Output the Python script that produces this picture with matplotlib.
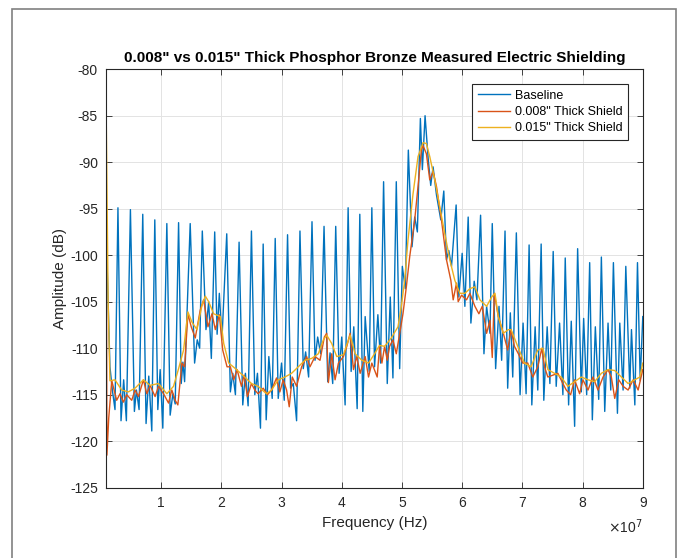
import matplotlib
matplotlib.use("Agg")
import matplotlib.pyplot as plt
from matplotlib.patches import Rectangle
from matplotlib.ticker import FuncFormatter
import numpy as np

plt.rcParams["font.family"] = ["Liberation Sans", "DejaVu Sans"]
plt.rcParams["axes.unicode_minus"] = False

BLUE = "#0072BD"
ORANGE = "#D95319"
YELLOW = "#EDB120"
AXC = "#262626"

# frequency in units of 1e7 Hz, amplitude in dB
base_f = [0.09, 0.15, 0.19, 0.234,
          0.283, 0.334, 0.378, 0.423, 0.49, 0.556, 0.59, 0.634,
          0.695, 0.75, 0.795, 0.845, 0.895, 0.945, 0.984, 1.028,
          1.095, 1.15, 1.195, 1.234, 1.29, 1.334, 1.362, 1.39,
          1.483, 1.556, 1.6, 1.64, 1.684, 1.745, 1.79, 1.834,
          1.89, 1.93, 1.967, 2.01, 2.09, 2.15, 2.19, 2.234,
          2.295, 2.356, 2.40, 2.445, 2.50, 2.556, 2.60, 2.65,
          2.695, 2.745, 2.789, 2.845, 2.895, 2.945, 3.0, 3.045,
          3.10, 3.15, 3.195, 3.25, 3.306, 3.361, 3.40, 3.45,
          3.506, 3.556, 3.6, 3.65, 3.706, 3.767, 3.806, 3.85,
          3.90, 3.956, 4.0, 4.056, 4.106, 4.156, 4.2, 4.256,
          4.30, 4.35, 4.389, 4.456, 4.50, 4.545, 4.60, 4.645,
          4.695, 4.756, 4.806, 4.85, 4.906, 4.962, 5.006, 5.056,
          5.106, 5.167, 5.212, 5.256, 5.306, 5.339, 5.384, 5.434,
          5.478, 5.517, 5.573, 5.645, 5.695, 5.74, 5.778, 5.823,
          5.90, 5.945, 6.0, 6.045, 6.10, 6.145, 6.2, 6.245,
          6.306, 6.362, 6.406, 6.462, 6.50, 6.556, 6.612, 6.656,
          6.712, 6.756, 6.80, 6.84, 6.90, 6.962, 7.012, 7.062,
          7.112, 7.157, 7.212, 7.256, 7.312, 7.356, 7.412, 7.457,
          7.512, 7.562, 7.618, 7.673, 7.712, 7.768, 7.812, 7.868,
          7.918, 7.979, 8.018, 8.068, 8.118, 8.162, 8.212, 8.268,
          8.312, 8.368, 8.423, 8.468, 8.512, 8.579, 8.618, 8.673,
          8.718, 8.784, 8.812, 8.868, 8.912, 8.957, 9.0]
base_db = [-98, -112, -114.5, -116.6,
           -94.9, -117.8, -113.4, -117.8, -95.1, -116.8, -114.5, -116.6,
           -95.6, -118.1, -113, -118.9, -96.2, -116.6, -112.3, -118.6,
           -96.6, -117.2, -114.9, -116, -96.5, -113.8, -111.5, -113.6,
           -96.6, -111.6, -109.1, -110, -97.4, -108, -105, -111.1,
           -97.5, -108.5, -104.1, -109.1, -97.7, -114.7, -112.7, -115,
           -98.6, -116.1, -112.7, -116.2, -97.4, -115, -112.7, -118.6,
           -98.8, -117.7, -110.9, -115.4, -98.2, -115.4, -111.6, -115.6,
           -97.8, -114.3, -113.8, -117.8, -97.4, -112.2, -110.4, -113.1,
           -96.4, -111.3, -108.8, -110.6, -96.9, -113.6, -110.5, -113.8,
           -96.9, -112.7, -108.8, -116.1, -94.9, -112.5, -107.7, -116.5,
           -95.6, -116.8, -106.6, -112.5, -94.9, -112, -106.4, -111.6,
           -92.1, -113.8, -104.5, -113.2, -92.1, -112.2, -101.2, -103.6,
           -88.7, -99.1, -95.9, -97.5, -85.3, -90.8, -85.0, -89.5,
           -92.5, -90.5, -93.5, -96.2, -93.1, -100.5, -99.5, -101.2,
           -94.6, -104.5, -99.8, -105.5, -95.9, -107.3, -102.8, -104.8,
           -95.7, -110.6, -105.5, -108.4, -96.6, -112.2, -105.5, -111.3,
           -97.4, -114.3, -106.2, -113.1, -97.6, -115, -107.3, -114.9,
           -98.9, -116.1, -107.7, -114.5, -98.8, -115.6, -107.7, -113.8,
           -99.6, -114.1, -107.3, -115, -100.3, -116.1, -107.1, -118.4,
           -99.3, -114.7, -106.8, -115, -100.8, -117.7, -107.7, -115.5,
           -100.2, -116.8, -107.3, -114.5, -100.8, -117, -107.3, -114.5,
           -101.2, -114.3, -108, -116.1, -100.8, -113.5, -106.6]

thin_f = [0.09, 0.10, 0.13, 0.18, 0.262, 0.317, 0.373, 0.428, 0.512, 0.567,
          0.623, 0.706, 0.762, 0.817, 0.9, 0.956, 1.04, 1.123, 1.178, 1.234,
          1.278, 1.345, 1.39, 1.445, 1.5, 1.567, 1.65, 1.706, 1.778, 1.845,
          1.9, 1.967, 2.023, 2.095, 2.15, 2.206, 2.262, 2.334, 2.378, 2.434,
          2.50, 2.556, 2.611, 2.695, 2.767, 2.834, 2.917, 2.972, 3.028, 3.084,
          3.128, 3.178, 3.25, 3.334, 3.417, 3.472, 3.556, 3.639, 3.711, 3.75,
          3.778, 3.834, 3.889, 3.945, 4.028, 4.084, 4.139, 4.195, 4.25, 4.306,
          4.389, 4.445, 4.5, 4.589, 4.628, 4.667, 4.712, 4.756, 4.795, 4.85,
          4.906, 4.962, 5.017, 5.073, 5.128, 5.212, 5.267, 5.323, 5.35, 5.406,
          5.462, 5.517, 5.573, 5.656, 5.74, 5.812, 5.851, 5.906, 5.934, 5.99,
          6.073, 6.128, 6.212, 6.278, 6.334, 6.406, 6.462, 6.50, 6.534, 6.60,
          6.684, 6.756, 6.812, 6.868, 6.934, 7.006, 7.09, 7.173, 7.256, 7.323,
          7.368, 7.423, 7.506, 7.59, 7.673, 7.729, 7.801, 7.868, 7.951, 8.006,
          8.09, 8.173, 8.256, 8.34, 8.423, 8.478, 8.534, 8.601, 8.673, 8.756,
          8.84, 8.923, 9.0]
thin_db = [-97, -121.5, -117.5, -113.5, -115.6, -114.9, -115.8, -115.0, -115.6, -114.5,
           -115.2, -113.4, -114.9, -114.0, -115.2, -114.1, -114.9, -115.9, -114.5, -115.6,
           -116.1, -111.6, -112.0, -106.3, -107.7, -108.9, -105.9, -104.8, -107.7, -106.3,
           -108.0, -106.4, -110.2, -112.0, -112.0, -113.4, -112.3, -114.1, -112.9, -115.2,
           -113.8, -114.5, -114.9, -114.3, -115.0, -114.5, -113.2, -114.7, -113.4, -114.5,
           -116.3, -113.1, -114.1, -112.0, -110.9, -112.0, -110.9, -111.3, -108.8, -108.4,
           -113.7, -110.6, -113.4, -111.6, -110.9, -109.8, -108.4, -112.3, -110.9, -112.7,
           -110.9, -113.1, -111.6, -113.1, -109.8, -111.6, -109.8, -111.3, -109.8, -109.1,
           -110.6, -108.4, -106.3, -103.4, -100.2, -96.2, -92.6, -88.7, -88.2, -89.1,
           -91.9, -91.0, -92.6, -96.2, -100.5, -102.7, -104.8, -103.0, -105.0, -104.3,
           -104.8, -104.1, -105.5, -106.3, -105.5, -108.4, -107.0, -111.0, -104.1, -106.6,
           -108.4, -110.2, -108.0, -109.8, -110.6, -111.6, -111.6, -113.1, -112.0, -110.0,
           -112.0, -113.1, -112.9, -112.7, -113.8, -114.5, -115.0, -113.4, -114.9, -113.4,
           -114.5, -113.1, -114.5, -113.1, -112.3, -113.1, -115.4, -113.4, -114.1, -114.5,
           -113.4, -114.5, -112.3]

thick_f = [0.09, 0.12, 0.15, 0.234, 0.345, 0.456, 0.567, 0.706, 0.817, 0.956,
           1.095, 1.206, 1.29, 1.373, 1.445, 1.512, 1.595, 1.678, 1.734, 1.79,
           1.873, 1.984, 2.04, 2.123, 2.234, 2.389, 2.50, 2.611, 2.75, 2.834,
           2.945, 3.056, 3.167, 3.278, 3.389, 3.50, 3.611, 3.695, 3.75, 3.834,
           3.917, 4.028, 4.139, 4.222, 4.334, 4.445, 4.545, 4.628, 4.712, 4.823,
           4.934, 4.99, 5.045, 5.10, 5.184, 5.267, 5.35, 5.406, 5.462, 5.545,
           5.628, 5.712, 5.795, 5.878, 5.962, 6.045, 6.128, 6.212, 6.295, 6.406,
           6.49, 6.545, 6.60, 6.684, 6.767, 6.812, 6.923, 7.034, 7.145, 7.256,
           7.34, 7.423, 7.534, 7.645, 7.756, 7.868, 7.979, 8.09, 8.201, 8.312,
           8.423, 8.534, 8.645, 8.756, 8.868, 8.951, 9.0]
thick_db = [-86.2, -105, -113.5, -113.4, -114.5, -114.7, -114.3, -113.4, -114.0, -113.8,
            -114.9, -114.1, -112.2, -110.2, -106.1, -107.2, -108.0, -105.4, -104.4, -105.0,
            -106.3, -106.6, -109.5, -111.6, -112.2, -113.1, -113.8, -114.1, -114.9, -114.5,
            -113.4, -113.1, -112.7, -112.0, -111.3, -111.1, -110.6, -109.1, -108.6, -109.5,
            -110.9, -110.7, -108.6, -110.6, -111.3, -111.6, -110.6, -109.7, -109.8, -108.9,
            -107.7, -105.5, -102.7, -98.4, -93.4, -89.4, -87.9, -88.0, -89.4, -91.9,
            -94.8, -97.7, -100.5, -102.7, -104.1, -104.1, -103.6, -103.4, -104.8, -105.5,
            -104.5, -104.1, -106.6, -108.4, -108.0, -108.0, -109.8, -111.6, -112.0, -110.2,
            -110.0, -112.3, -112.7, -113.1, -114.1, -113.6, -113.1, -113.4, -113.6, -112.7,
            -112.3, -112.4, -113.1, -113.8, -113.4, -113.1, -111.6]

fig = plt.figure(figsize=(6.86, 5.58), dpi=100)
ax = fig.add_axes([0.155, 0.126, 0.782, 0.750])

ax.plot(np.array(base_f) * 1e7, base_db, color=BLUE, lw=1.0, label="Baseline")
ax.plot(np.array(thin_f) * 1e7, thin_db, color=ORANGE, lw=1.0, label='0.008" Thick Shield')
ax.plot(np.array(thick_f) * 1e7, thick_db, color=YELLOW, lw=1.0, label='0.015" Thick Shield')

ax.set_xlim(0.09e7, 9e7)
ax.set_ylim(-125, -80)
ax.set_xticks(np.arange(1, 10) * 1e7)
ax.set_yticks(np.arange(-125, -79, 5))
ax.xaxis.set_major_formatter(FuncFormatter(lambda v, p: f"{v / 1e7:g}"))
ax.grid(True, color="#e3e3e3", lw=0.7)
ax.set_axisbelow(True)
for s in ax.spines.values():
    s.set_color(AXC)
    s.set_linewidth(0.8)
ax.tick_params(direction="in", length=4, width=0.6, colors=AXC, labelsize=10,
               top=True, right=True, pad=6)

ax.set_title('0.008" vs 0.015" Thick Phosphor Bronze Measured Electric Shielding',
             fontsize=11, fontweight="bold", pad=5)
ax.set_xlabel("Frequency (Hz)", fontsize=11, color=AXC, labelpad=4)
ax.set_ylabel("Amplitude (dB)", fontsize=11, color=AXC, labelpad=2)
ax.text(1.0, -0.07, r"$\times$10$^7$", transform=ax.transAxes, ha="right",
        va="top", fontsize=10, color=AXC)

leg = ax.legend(loc="upper right", bbox_to_anchor=(0.9726, 0.9646), borderaxespad=0,
                fontsize=9, fancybox=False, framealpha=1, edgecolor=AXC,
                handlelength=2.6, handletextpad=0.35, labelspacing=0.35,
                borderpad=0.45)
leg.get_frame().set_linewidth(0.8)

fig.add_artist(Rectangle((12 / 686, -0.02), 664 / 686, 1.02 - 9 / 558,
                         transform=fig.transFigure, fill=False,
                         edgecolor="#808080", lw=1.2))

fig.savefig("out.png", dpi=100)
